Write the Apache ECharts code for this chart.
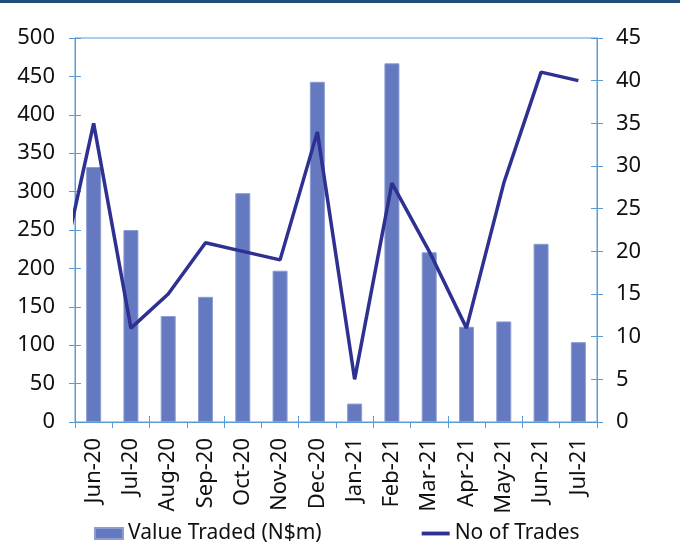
<!DOCTYPE html>
<html>
<head>
<meta charset="utf-8">
<script src="https://cdn.jsdelivr.net/npm/echarts@6/dist/echarts.min.js"></script>
<style>
  html, body { margin: 0; padding: 0; background: #fff; }
  #main { width: 680px; height: 551px; }
</style>
</head>
<body>
<div id="main"></div>
<script>
// categories
var months = ['Jun-20', 'Jul-20', 'Aug-20', 'Sep-20', 'Oct-20', 'Nov-20', 'Dec-20',
  'Jan-21', 'Feb-21', 'Mar-21', 'Apr-21', 'May-21', 'Jun-21', 'Jul-21'];
// bars, left axis
var valueTraded = [332, 250, 138, 163, 298, 197, 443, 24, 467, 221, 124, 131, 232, 104];
// line, right axis
var noOfTrades = [35, 11, 15, 21, 20, 19, 34, 5, 28, 20, 11, 28, 41, 40];
// the month before Jun-20 is cut off at the left edge, only its slope shows
var prevTrades = 15;

var leftTicks = { min: 0, max: 500, interval: 50 };
var rightTicks = { min: 0, max: 45, interval: 5 };

var axisBlue = '#5b9bd5';
var font = 'Noto Sans';

// line on a hidden value axis so the clipped point before Jun-20 can be drawn
var lineData = [[-1, prevTrades]];
for (var i = 0; i < noOfTrades.length; i++) {
  lineData.push([i, noOfTrades[i]]);
}

var chart = echarts.init(document.getElementById('main'));
chart.setOption({
  animation: false,
  graphic: [
    { type: 'rect', shape: { x: 0, y: 0, width: 680, height: 3 }, style: { fill: '#1f4e79' } }
  ],
  grid: {
    left: 75, right: 83, top: 38, bottom: 129,
    show: true, borderColor: axisBlue, borderWidth: 1
  },
  legend: {
    left: 94, top: 523, padding: 0,
    itemWidth: 28, itemHeight: 11, itemGap: 100,
    textStyle: { fontSize: 21, color: '#111', fontFamily: font },
    data: [
      { name: 'Value Traded (N$m)', icon: 'rect' },
      { name: 'No of Trades', icon: 'path://M0,0H29V4H0Z' }
    ]
  },
  xAxis: [
    {
      type: 'category',
      data: months,
      position: 'bottom',
      axisLine: { onZero: false, lineStyle: { color: axisBlue, width: 1 } },
      axisTick: { show: true, length: 6, lineStyle: { color: axisBlue } },
      axisLabel: { rotate: 90, margin: 16, fontSize: 22, color: '#111', fontFamily: font }
    },
    {
      type: 'value', min: -0.5, max: 13.5, show: false,
      axisLine: { onZero: false }
    },
    {
      // inner half of the crossing ticks
      type: 'category',
      data: months,
      position: 'bottom',
      axisLine: { show: false, onZero: false },
      axisTick: { show: true, inside: true, length: 6, lineStyle: { color: axisBlue } },
      axisLabel: { show: false }
    }
  ],
  yAxis: [
    {
      type: 'value',
      position: 'left',
      min: leftTicks.min, max: leftTicks.max, interval: leftTicks.interval,
      splitLine: { show: false },
      axisLine: { show: true, onZero: false, lineStyle: { color: axisBlue } },
      axisTick: { show: true, length: 6, lineStyle: { color: axisBlue } },
      axisLabel: { margin: 20, fontSize: 22, color: '#111', fontFamily: font }
    },
    {
      type: 'value',
      position: 'right',
      min: rightTicks.min, max: rightTicks.max, interval: rightTicks.interval,
      splitLine: { show: false },
      axisLine: { show: true, onZero: false, lineStyle: { color: axisBlue } },
      axisTick: { show: true, length: 6, lineStyle: { color: axisBlue } },
      axisLabel: { margin: 19, fontSize: 22, color: '#111', fontFamily: font }
    },
    {
      type: 'value',
      position: 'left',
      min: leftTicks.min, max: leftTicks.max, interval: leftTicks.interval,
      splitLine: { show: false },
      axisLine: { show: false, onZero: false },
      axisTick: { show: true, inside: true, length: 6, lineStyle: { color: axisBlue } },
      axisLabel: { show: false }
    },
    {
      type: 'value',
      position: 'right',
      min: rightTicks.min, max: rightTicks.max, interval: rightTicks.interval,
      splitLine: { show: false },
      axisLine: { show: false, onZero: false },
      axisTick: { show: true, inside: true, length: 6, lineStyle: { color: axisBlue } },
      axisLabel: { show: false }
    }
  ],
  series: [
    {
      name: 'Value Traded (N$m)',
      type: 'bar',
      xAxisIndex: 0,
      yAxisIndex: 0,
      barWidth: 15,
      itemStyle: { color: '#6479bf', borderColor: '#8c9dd3', borderWidth: 1 },
      data: valueTraded
    },
    {
      name: 'No of Trades',
      type: 'line',
      xAxisIndex: 1,
      yAxisIndex: 1,
      symbol: 'none',
      clip: true,
      lineStyle: { color: '#2e3192', width: 3.5 },
      itemStyle: { color: '#2e3192' },
      data: lineData
    }
  ]
});
</script>
</body>
</html>
